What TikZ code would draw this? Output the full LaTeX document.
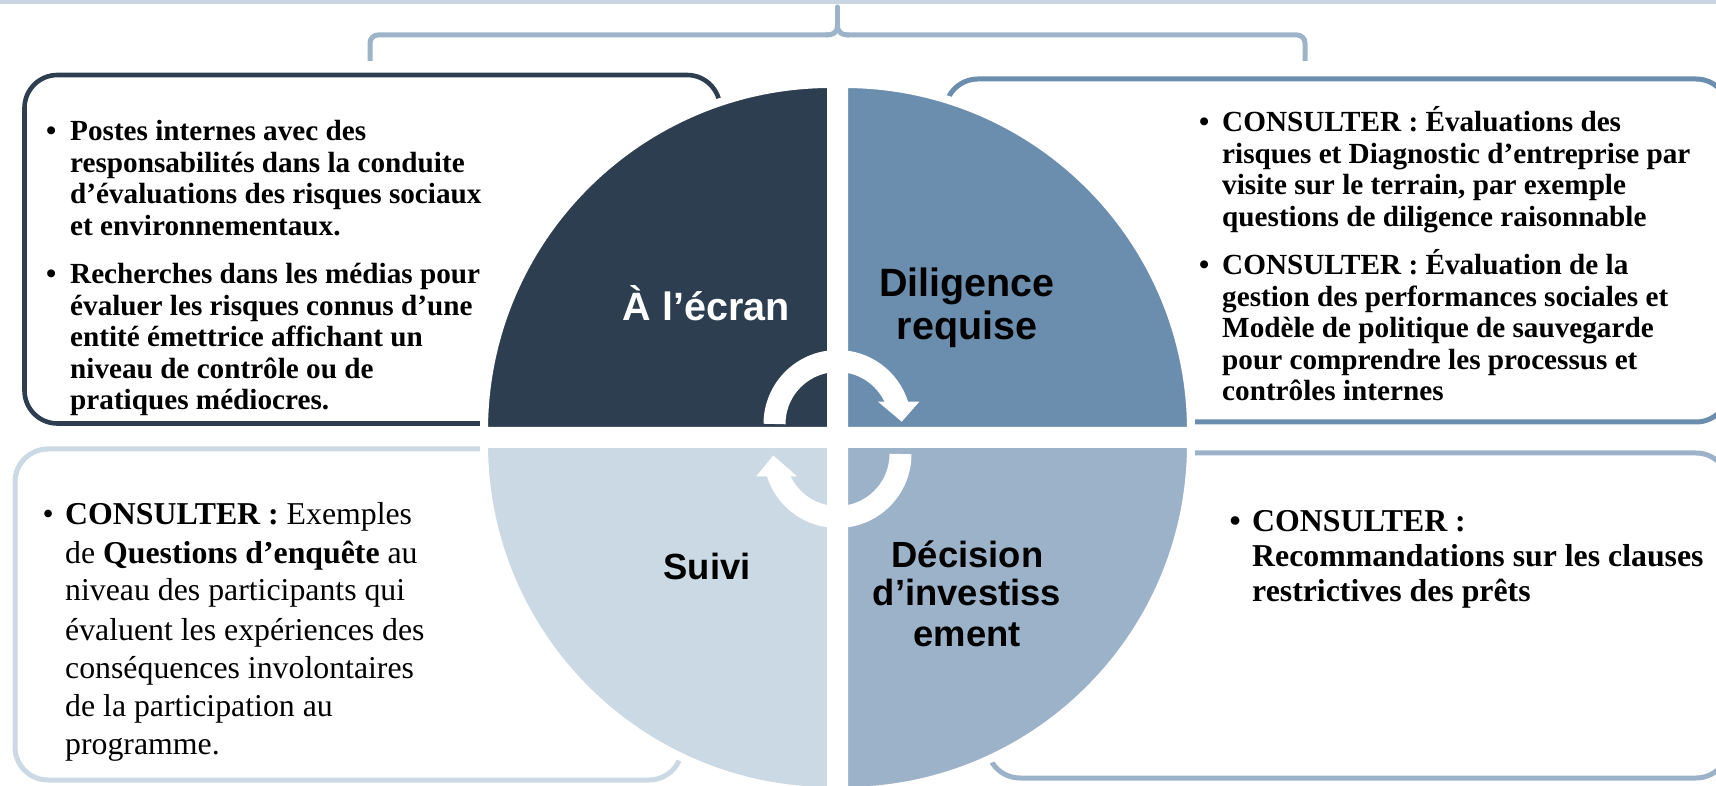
\documentclass[tikz,border=0pt]{standalone}
\usepackage{fontspec}
\setmainfont{Liberation Serif}
\newfontfamily\arialf{Liberation Sans}
\definecolor{qnavy}{HTML}{2D3E50}
\definecolor{qblue}{HTML}{6B8EAE}
\definecolor{qmid}{HTML}{9CB2C9}
\definecolor{qlight}{HTML}{CAD9E4}
\definecolor{bracecol}{HTML}{9DB3C8}
\definecolor{toplinecol}{HTML}{C9D6E1}
\tikzset{
  quad/.style={draw=white, line width=8pt},
  boxline/.style={line width=5pt, rounded corners=33pt},
  bracestyle/.style={draw=bracecol, line width=5pt},
  arrowshaft/.style={draw=white, line width=22pt},
  arrowhd/.style={fill=white},
  tlt/.style={font=\bfseries\fontsize{29.2}{32}\selectfont, anchor=base west, inner sep=0pt},
  blt/.style={font=\fontsize{31.8}{38}\selectfont, anchor=base west, inner sep=0pt},
  brt/.style={font=\bfseries\fontsize{31.8}{35}\selectfont, anchor=base west, inner sep=0pt},
  lab/.style={font=\arialf\bfseries\fontsize{39.5}{42}\selectfont, anchor=base, inner sep=0pt},
  labs/.style={font=\arialf\bfseries\fontsize{36.4}{40}\selectfont, anchor=base, inner sep=0pt},
}
\begin{document}
\begin{tikzpicture}[x=1pt,y=1pt]
\useasboundingbox (0,0) rectangle (1716,785);
% top line
\fill[toplinecol] (0,781) rectangle (1716,785);
% bracket
\draw[bracestyle, rounded corners=8pt] (370,724) -- (370,750) -- (828,750);
\draw[bracestyle] (826,750) .. controls (833,750) and (837.5,752) .. (837.5,760);
\draw[bracestyle, line cap=round] (837.5,759) -- (837.5,778);
\draw[bracestyle] (849,750) .. controls (842,750) and (837.5,752) .. (837.5,760);
\draw[bracestyle, rounded corners=8pt] (847,750) -- (1305,750) -- (1305,724);
% boxes
\draw[boxline, draw=qnavy, line width=4.6pt] (24.5,361.5) rectangle (720,710);
\draw[boxline, draw=qblue] (945,363) rectangle (1729,706);
\draw[boxline, draw=qlight] (15,5) rectangle (682,336);
\draw[boxline, draw=qmid] (987,7) rectangle (1729,332);
% quadrants
\filldraw[quad, fill=qnavy] (831,354) -- ++(-347,0) arc[start angle=180, end angle=90, radius=347pt] -- cycle;
\filldraw[quad, fill=qblue] (844,354) -- ++(0,347) arc[start angle=90, end angle=0, radius=347pt] -- cycle;
\filldraw[quad, fill=qlight] (831,341) -- ++(-347,0) arc[start angle=180, end angle=270, radius=347pt] -- cycle;
\filldraw[quad, fill=qmid] (844,341) -- ++(347,0) arc[start angle=0, end angle=-90, radius=347pt] -- cycle;
% circular arrows
\draw[arrowshaft] (774.5,361) arc[start angle=180, end angle=17, radius=63pt];
\fill[arrowhd] (878,383.3) -- (919.3,383.3) -- (901.7,363.3) -- cycle;
\draw[arrowshaft] (900.5,331) arc[start angle=0, end angle=-163, radius=63pt];
\fill[arrowhd] (756,308.5) -- (797.3,308.5) -- (773.3,329.5) -- cycle;
% quadrant labels
\node[lab, text=white] (ecran) at (706.4,464) {À l’écran};
\node[lab] (dil1) at (967,488) {Diligence};
\node[lab] (dil2) at (967,445) {requise};
\node[labs] (suivi) at (707,205) {Suivi};
\node[labs] (dec1) at (967.5,217.7) {Décision};
\node[labs] (dec2) at (967,179) {d’investiss};
\node[labs] (dec3) at (967,138.3) {ement};
% top-left text
\node[tlt] (tlb1) at (46,644) {•};
\node[tlt] (tl1) at (70,644) {Postes internes avec des};
\node[tlt] (tl2) at (70,612.5) {responsabilités dans la conduite};
\node[tlt] (tl3) at (70,581) {d’évaluations des risques sociaux};
\node[tlt] (tl4) at (70,549.5) {et environnementaux.};
\node[tlt] (tlb2) at (46,501) {•};
\node[tlt] (tl5) at (70,501) {Recherches dans les médias pour};
\node[tlt] (tl6) at (70,469.5) {évaluer les risques connus d’une};
\node[tlt] (tl7) at (70,438) {entité émettrice affichant un};
\node[tlt] (tl8) at (70,406.5) {niveau de contrôle ou de};
\node[tlt] (tl9) at (70,375) {pratiques médiocres.};
% top-right text
\node[tlt] (trb1) at (1199,653) {•};
\node[tlt] (tr1) at (1222,653) {CONSULTER : Évaluations des};
\node[tlt] (tr2) at (1222,621.5) {risques et Diagnostic d’entreprise par};
\node[tlt] (tr3) at (1222,590) {visite sur le terrain, par exemple};
\node[tlt] (tr4) at (1222,558.5) {questions de diligence raisonnable};
\node[tlt] (trb2) at (1199,510) {•};
\node[tlt] (tr5) at (1222,510) {CONSULTER : Évaluation de la};
\node[tlt] (tr6) at (1222,478.5) {gestion des performances sociales et};
\node[tlt] (tr7) at (1222,447) {Modèle de politique de sauvegarde};
\node[tlt] (tr8) at (1222,415.5) {pour comprendre les processus et};
\node[tlt] (tr9) at (1222,384) {contrôles internes};
% bottom-left text
\node[blt] (blb1) at (42.5,260) {•};
\node[blt] (bl1) at (65,260) {\textbf{CONSULTER :} Exemples};
\node[blt] (bl2) at (65,222) {de \textbf{Questions d’enquête} au};
\node[blt] (bl3) at (65,184) {niveau des participants qui};
\node[blt] (bl4) at (65,145) {évaluent les expériences des};
\node[blt] (bl5) at (65,107) {conséquences involontaires};
\node[blt] (bl6) at (65,69) {de la participation au};
\node[blt] (bl7) at (65,31) {programme.};
% bottom-right text
\node[brt] (brb1) at (1229.5,253) {•};
\node[brt] (br1) at (1252,253) {CONSULTER :};
\node[brt] (br2) at (1252,218) {Recommandations sur les clauses};
\node[brt] (br3) at (1252,183) {restrictives des prêts};
\end{tikzpicture}
\end{document}
